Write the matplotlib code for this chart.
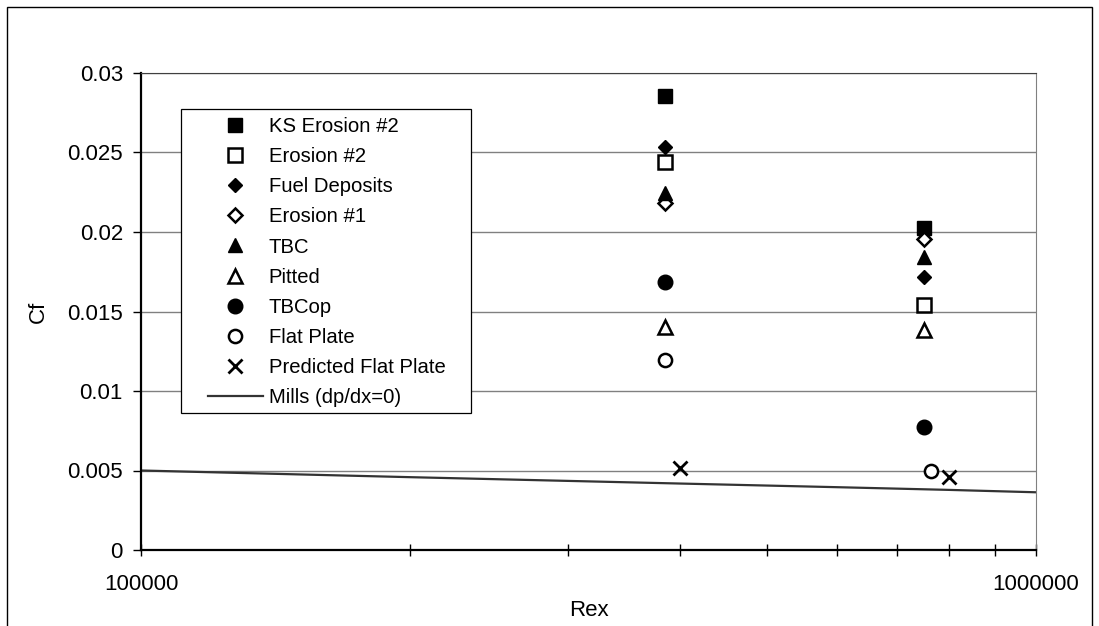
import matplotlib
matplotlib.use("Agg")
from matplotlib import pyplot as plt
from matplotlib.patches import Rectangle
from matplotlib.ticker import FixedLocator, FixedFormatter, NullFormatter

plt.rcParams['font.family'] = ['Liberation Sans', 'DejaVu Sans']

# series values
ks_erosion2_x = [385000, 750000]
ks_erosion2_y = [0.02857, 0.02023]
erosion2_x = [385000, 750000]
erosion2_y = [0.02442, 0.01541]
fuel_dep_x = [385000, 750000]
fuel_dep_y = [0.02533, 0.01719]
erosion1_x = [385000, 750000]
erosion1_y = [0.02180, 0.01954]
tbc_x = [385000, 750000]
tbc_y = [0.02243, 0.01841]
pitted_x = [385000, 750000]
pitted_y = [0.01405, 0.01384]
tbcop_x = [385000, 750000]
tbcop_y = [0.01688, 0.00772]
flat_x = [385000, 763000]
flat_y = [0.01195, 0.00499]
pred_flat_x = [400000, 800000]
pred_flat_y = [0.00514, 0.00457]
mills_x = [100000, 200000, 400000, 600000, 800000, 1000000]
mills_y = [0.00500, 0.00458, 0.00418, 0.00395, 0.00378, 0.00363]

y_ticks = [0, 0.005, 0.01, 0.015, 0.02, 0.025, 0.03]
y_tick_labels = ['0', '0.005', '0.01', '0.015', '0.02', '0.025', '0.03']
x_ticks = [100000, 1000000]
x_tick_labels = ['100000', '1000000']
x_minor = [200000, 300000, 400000, 500000, 600000, 700000, 800000, 900000]

fig = plt.figure(figsize=(10.99, 6.26), dpi=100)
ax = fig.add_axes([141/1099, 76/626, 895/1099, 477/626])

ms = 10.5
ax.plot(ks_erosion2_x, ks_erosion2_y, 's', color='black', ms=ms, label='KS Erosion #2')
ax.plot(erosion2_x, erosion2_y, 's', mfc='white', mec='black', mew=1.8, ms=ms-1, label='Erosion #2')
ax.plot(fuel_dep_x, fuel_dep_y, 'D', color='black', ms=7.5, label='Fuel Deposits')
ax.plot(erosion1_x, erosion1_y, 'D', mfc='white', mec='black', mew=1.8, ms=7, label='Erosion #1')
ax.plot(tbc_x, tbc_y, '^', color='black', ms=ms, label='TBC')
ax.plot(pitted_x, pitted_y, '^', mfc='white', mec='black', mew=1.8, ms=ms-1, label='Pitted')
ax.plot(tbcop_x, tbcop_y, 'o', color='black', ms=ms, label='TBCop')
ax.plot(flat_x, flat_y, 'o', mfc='white', mec='black', mew=1.8, ms=ms-1, label='Flat Plate')
ax.plot(pred_flat_x, pred_flat_y, 'x', color='black', mew=2, ms=ms, label='Predicted Flat Plate')
ax.plot(mills_x, mills_y, '-', color='#333333', lw=1.6, label='Mills (dp/dx=0)')

ax.set_xscale('log')
ax.set_xlim(100000, 1000000)
ax.set_ylim(0, 0.03)
ax.xaxis.set_major_locator(FixedLocator(x_ticks))
ax.xaxis.set_major_formatter(FixedFormatter(x_tick_labels))
ax.xaxis.set_minor_locator(FixedLocator(x_minor))
ax.xaxis.set_minor_formatter(NullFormatter())
ax.yaxis.set_major_locator(FixedLocator(y_ticks))
ax.yaxis.set_major_formatter(FixedFormatter(y_tick_labels))

ax.yaxis.grid(True, color='#808080', lw=1)
ax.set_axisbelow(True)
ax.tick_params(axis='x', which='both', direction='inout', length=8, width=1, pad=13, labelsize=16)
ax.tick_params(axis='y', direction='out', length=6, width=1, pad=7, labelsize=16)

for s in ['left', 'bottom']:
    ax.spines[s].set_linewidth(1.6)
    ax.spines[s].set_color('black')
ax.spines['top'].set_color('#404040')
ax.spines['right'].set_color('#808080')

ax.set_xlabel('Rex', fontsize=16, labelpad=4)
ax.set_ylabel('Cf', fontsize=16, labelpad=13)

# legend box (drawn by hand so the frame can be wider than the entries)
box = Rectangle((0.0447, 0.287), 0.324, 0.6375, transform=ax.transAxes,
                facecolor='white', edgecolor='black', lw=0.9, zorder=4)
ax.add_patch(box)
leg = ax.legend(loc='upper left', bbox_to_anchor=(0.0749, 0.9078), frameon=False,
                fontsize=14.6, numpoints=1, handlelength=2.7, handletextpad=0.3,
                labelspacing=0.55, borderpad=0, borderaxespad=0)
leg.set_zorder(5)

# outer frame
fig.add_artist(Rectangle((7/1099, -0.1), 1085/1099, 1.1 - 7/626, transform=fig.transFigure,
                         facecolor='none', edgecolor='black', lw=1))

fig.savefig('out.png', dpi=100)
